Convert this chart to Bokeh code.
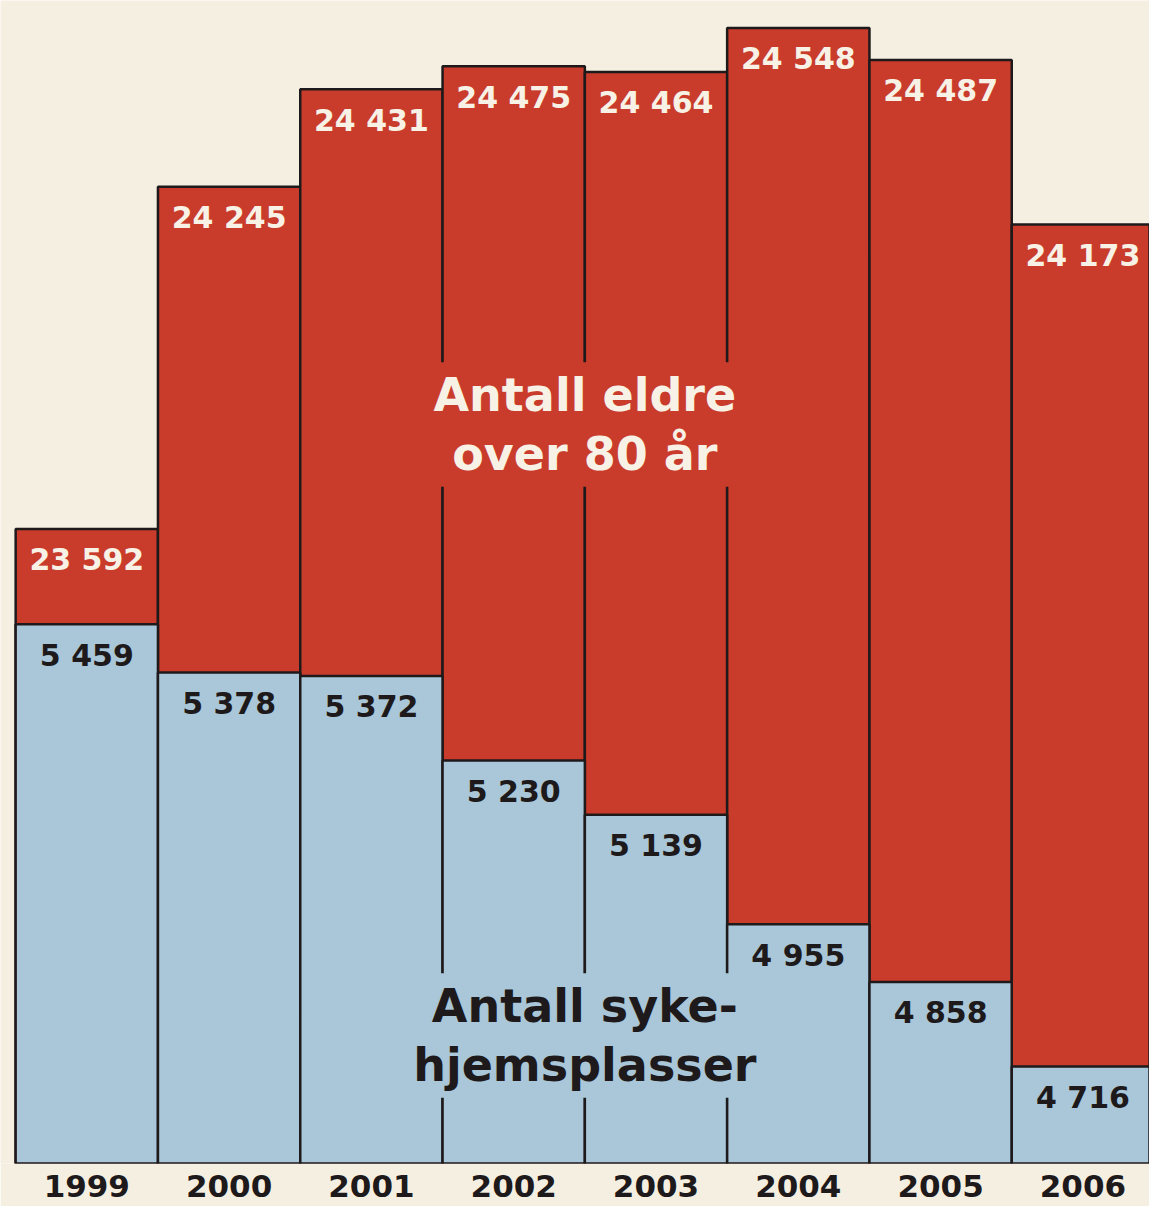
from bokeh.plotting import figure
from bokeh.models import Range1d, FixedTicker, Label, ColumnDataSource
from bokeh.core.properties import value
from bokeh.embed import file_html
from bokeh.resources import INLINE

# ---- data ----
years = ["1999", "2000", "2001", "2002", "2003", "2004", "2005", "2006"]
eldre_over_80 = [23592, 24245, 24431, 24475, 24464, 24548, 24487, 24173]
sykehjemsplasser = [5459, 5378, 5372, 5230, 5139, 4955, 4858, 4716]
eldre_labels = ["23 592", "24 245", "24 431", "24 475", "24 464", "24 548", "24 487", "24 173"]
plass_labels = ["5 459", "5 378", "5 372", "5 230", "5 139", "4 955", "4 858", "4 716"]

# ---- style ----
BG = "#f5efe1"
RED = "#c93c2b"
BLUE = "#a9c7d8"
INK = "#1e1a1b"
LIGHT = "#f7f1e6"
FONT = "DejaVu Sans"

xs = list(range(len(years)))
src = ColumnDataSource(dict(x=xs, eldre=eldre_over_80, plass=sykehjemsplasser,
                            eldre_lbl=eldre_labels, plass_lbl=plass_labels))

p = figure(width=1149, height=1206, output_backend="svg", toolbar_location=None,
           x_range=Range1d(-0.6065, 7.468), y_range=Range1d(4552.8, 6507.1),
           y_axis_location=None, min_border=0, min_border_bottom=43,
           background_fill_color=BG, border_fill_color=BG, outline_line_color=None)
p.extra_y_ranges = {"eldre": Range1d(22381.3, 24600.3)}
p.grid.visible = False

ax = p.xaxis[0]
ax.ticker = FixedTicker(ticks=xs)
ax.major_label_overrides = {i: y for i, y in zip(xs, years)}
ax.axis_line_color = None
ax.major_tick_line_color = None
ax.minor_tick_line_color = None
ax.major_label_standoff = 5
ax.major_label_text_font = FONT
ax.major_label_text_font_style = "bold"
ax.major_label_text_font_size = "31px"
ax.major_label_text_color = INK

# red bars (elderly over 80), drawn from below the baseline (bottom edge clipped)
p.vbar(x="x", top="eldre", bottom=21500, width=1.0, y_range_name="eldre",
       fill_color=RED, line_color=INK, line_width=2.5, source=src)
# blue bars (nursing-home places) in front
p.vbar(x="x", top="plass", bottom=4000, width=1.0,
       fill_color=BLUE, line_color=INK, line_width=2.5, source=src)

p.text(x="x", y="eldre", text="eldre_lbl", y_range_name="eldre", y_offset=31,
       text_align="center", text_baseline="middle", text_font=value(FONT),
       text_font_style="bold", text_font_size="30px", text_color=LIGHT, source=src)
p.text(x="x", y="plass", text="plass_lbl", y_offset=31,
       text_align="center", text_baseline="middle", text_font=value(FONT),
       text_font_style="bold", text_font_size="30px", text_color=INK, source=src)

p.add_layout(Label(x=3.5, y=739, y_units="screen", text="Antall eldre\nover 80 år",
                   text_align="center", text_baseline="middle", text_font=FONT,
                   text_font_style="bold", text_font_size="46px", text_color=LIGHT,
                   text_line_height=1.08, background_fill_color=RED, padding=6))
p.add_layout(Label(x=3.5, y=128, y_units="screen", text="Antall syke-\nhjemsplasser",
                   text_align="center", text_baseline="middle", text_font=FONT,
                   text_font_style="bold", text_font_size="46px", text_color=INK,
                   text_line_height=1.08, background_fill_color=BLUE, padding=6))

open("out.html", "w").write(file_html(p, INLINE))
